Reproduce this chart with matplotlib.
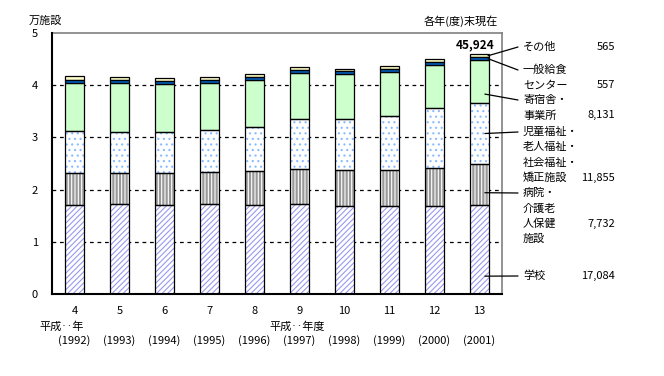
import matplotlib
matplotlib.use('Agg')
import matplotlib.pyplot as plt

plt.rcParams['font.family'] = ['Noto Sans CJK JP', 'DejaVu Sans']
plt.rcParams['hatch.linewidth'] = 0.8

# ---- data (facilities) ----
heisei = ['4', '5', '6', '7', '8', '9', '10', '11', '12', '13']
western = ['(1992)', '(1993)', '(1994)', '(1995)', '(1996)', '(1997)', '(1998)', '(1999)', '(2000)', '(2001)']
school = [17100, 17250, 17100, 17250, 17100, 17250, 16950, 16800, 16950, 17084]
hospital = [6050, 5950, 6100, 6150, 6500, 6750, 6850, 7000, 7200, 7732]
welfare = [8100, 7850, 7850, 8050, 8400, 9550, 9750, 10300, 11500, 11855]
dorm = [9200, 9350, 9150, 8950, 8950, 8800, 8550, 8450, 8150, 8131]
kyushoku = [600, 600, 600, 600, 600, 600, 600, 600, 600, 557]
other = [700, 600, 600, 600, 600, 550, 450, 600, 600, 565]
total_label = '45,924'

series = [school, hospital, welfare, dorm, kyushoku, other]
labels = [['学校'], ['病院・', '介護老', '人保健', '施設'],
          ['児童福祉・', '老人福祉・', '社会福祉・', '矯正施設'],
          ['寄宿舎・', '事業所'], ['一般給食', 'センター'], ['その他']]
value_texts = ['17,084', '7,732', '11,855', '8,131', '557', '565']

# ---- styles ----
faces = ['white', '#999999', 'white', '#ccffcc', '#0066cc', '#ffffcc']
hatch_colors = ['#9999ee', 'white', '#88bbff', 'none', 'none', 'none']
hatches = ['//////', '|||||', '...', None, None, None]

W, H = 664, 376
fig = plt.figure(figsize=(W / 100, H / 100), dpi=100)
ax = fig.add_axes([52 / W, (H - 294) / H, 450 / W, 261 / H])

x = list(range(len(heisei)))
bw = 0.42
bottoms = [0.0] * len(x)
seg_bounds = []
for vals, fc, hc, ht in zip(series, faces, hatch_colors, hatches):
    h = [v / 10000 for v in vals]
    if ht:
        ax.bar(x, h, bw, bottom=bottoms, color=fc, edgecolor=hc, hatch=ht, linewidth=0, zorder=2)
    else:
        ax.bar(x, h, bw, bottom=bottoms, color=fc, linewidth=0, zorder=2)
    ax.bar(x, h, bw, bottom=bottoms, fill=False, edgecolor='black', linewidth=0.9, zorder=3)
    seg_bounds.append((bottoms[-1], h[-1]))
    bottoms = [b + v for b, v in zip(bottoms, h)]

yticks = [0, 1, 2, 3, 4, 5]
ax.set_xlim(-0.5, 9.5)
ax.set_ylim(0, 5)
ax.set_yticks(yticks)
ax.set_yticklabels([str(t) for t in yticks], fontsize=8)
ax.tick_params(axis='y', length=0, pad=10)
ax.set_xticks([])
ax.hlines(yticks[1:-1], -0.5, 9.5, colors='black', linestyles=(0, (3, 3)), linewidth=0.9, zorder=1)
for s in ['left', 'bottom']:
    ax.spines[s].set_color('black')
    ax.spines[s].set_linewidth(1.5)
    ax.spines[s].set_zorder(4)
for s in ['top', 'right']:
    ax.spines[s].set_color('#808080')
    ax.spines[s].set_linewidth(1.2)

def ft(px, py, s, **kw):
    fig.text(px / W, 1 - py / H, s, **kw)

# x labels
for xi, hs, ws in zip(x, heisei, western):
    ax.text(xi, -0.33, hs, ha='center', va='center', fontsize=8, clip_on=False)
    ax.text(xi, -0.9, ws, ha='center', va='center', fontsize=8, clip_on=False)
ax.text(0 - 0.28, -0.62, '平成‥年', ha='center', va='center', fontsize=8, clip_on=False)
ax.text(5 - 0.05, -0.62, '平成‥年度', ha='center', va='center', fontsize=8, clip_on=False)

ft(45, 21, '万施設', ha='center', va='center', fontsize=8)
ft(498, 21, '各年(度)末現在', ha='right', va='center', fontsize=8)

ax.text(x[-1] - 0.09, bottoms[-1] + 0.05, total_label, ha='center', va='bottom',
        fontsize=8.5, fontweight='bold', clip_on=False)

# right-side labels with leader lines
first_y = [276, 193, 132, 100, 70, 47]
value_line = [0, 2, 3, 1, 1, 0]
frac = [0.2, 0.3, 0.5, 0.2, 0.5, 0.5]
start_dx = [0.12, 0.12, 0.12, 0.12, 0.19, 0.19]
step = 15.3
for i in range(6):
    b, h = seg_bounds[i]
    ax.annotate('', xy=(x[-1] + start_dx[i], b + frac[i] * h), xycoords='data',
                xytext=(518, H - first_y[i]), textcoords='figure pixels',
                arrowprops=dict(arrowstyle='-', color='black', lw=0.9, shrinkA=0, shrinkB=0),
                annotation_clip=False)
    for j, line in enumerate(labels[i]):
        ft(523, first_y[i] + j * step, line, ha='left', va='center', fontsize=8)
    ft(615, first_y[i] + value_line[i] * step, value_texts[i], ha='right', va='center', fontsize=8)

fig.savefig('out.png', dpi=100)
